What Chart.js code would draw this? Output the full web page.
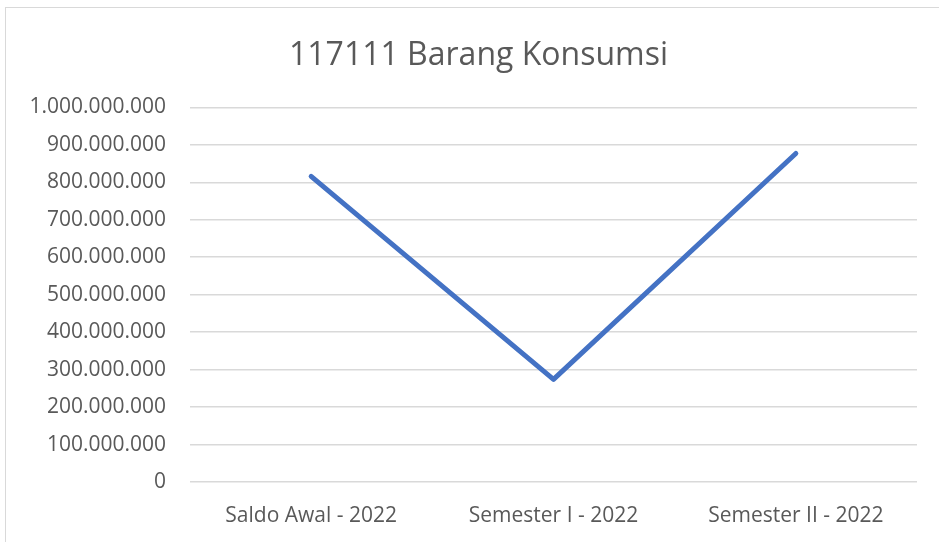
<!DOCTYPE html>
<html lang="id">
<head>
<meta charset="UTF-8">
<title>117111 Barang Konsumsi</title>
<script src="https://cdn.jsdelivr.net/npm/chart.js"></script>
<style>
    body { margin: 0; background: #fff; overflow: hidden; }
    .bingkai { position: absolute; left: 5px; top: 7px; width: 960px; height: 560px; border: 1px solid #d9d9d9; }
    .wadah { position: absolute; left: 0; top: 0; width: 939px; height: 542px; }
</style>
</head>
<body>
<div class="bingkai"></div>
<div class="wadah"><canvas id="grafik"></canvas></div>

<script>
    // data
    const kategori = ['Saldo Awal - 2022', 'Semester I - 2022', 'Semester II - 2022'];
    const nilai = [816000000, 274000000, 877000000];
    const sumbuMin = 0;
    const sumbuMax = 1000000000;
    const sumbuLangkah = 100000000;

    const fonta = "'Open Sans', 'Liberation Sans', sans-serif";

    function formatTitik(v) {
        return String(v).replace(/\B(?=(\d{3})+(?!\d))/g, '.');
    }

    // judul di aslinya sedikit ke kanan dari tengah area
    const geserJudul = {
        id: 'geserJudul',
        afterLayout(chart) {
            const t = chart.titleBlock;
            if (t) { t.left += 15; t.right += 15; }
        }
    };

    new Chart(document.getElementById('grafik'), {
        type: 'line',
        data: {
            labels: kategori,
            datasets: [{
                label: '117111 Barang Konsumsi',
                data: nilai,
                borderColor: '#4472c4',
                borderWidth: 5,
                borderCapStyle: 'round',
                borderJoinStyle: 'round',
                pointRadius: 0,
                tension: 0,
                fill: false
            }]
        },
        options: {
            responsive: true,
            maintainAspectRatio: false,
            animation: false,
            layout: { padding: { left: 10, right: 22, top: 0, bottom: 10 } },
            plugins: {
                legend: { display: false },
                tooltip: { enabled: false },
                title: {
                    display: true,
                    text: '117111 Barang Konsumsi',
                    color: '#595959',
                    font: { family: fonta, size: 32, weight: 'normal' },
                    padding: { top: 37, bottom: 32 }
                }
            },
            scales: {
                x: {
                    offset: true,
                    grid: { display: false, drawTicks: false },
                    border: { display: false },
                    ticks: { color: '#595959', font: { family: fonta, size: 21 }, padding: 21, maxRotation: 0 },
                    afterFit: (s) => { s.height = 50; }
                },
                y: {
                    min: sumbuMin,
                    max: sumbuMax,
                    grid: { color: '#d9d9d9', lineWidth: 1.5, drawTicks: false },
                    border: { display: false },
                    ticks: {
                        stepSize: sumbuLangkah,
                        color: '#595959',
                        font: { family: fonta, size: 21 },
                        padding: 24,
                        callback: (v) => formatTitik(v)
                    },
                    afterFit: (s) => { s.width = 180; }
                }
            }
        },
        plugins: [geserJudul]
    });
</script>
</body>
</html>
